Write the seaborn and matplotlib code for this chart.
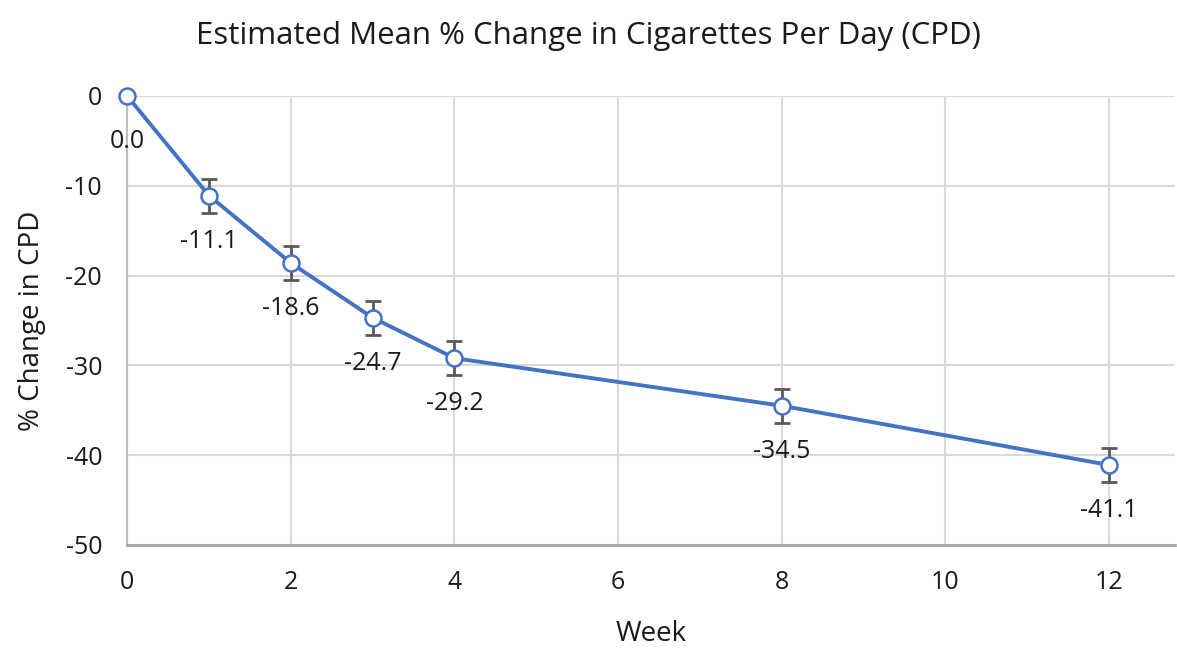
import pandas as pd
import matplotlib
matplotlib.use('Agg')
import matplotlib.pyplot as plt
import seaborn as sns

# дані з графіка
weeks = [0, 1, 2, 3, 4, 8, 12]
pct_change = [0.0, -11.1, -18.6, -24.7, -29.2, -34.5, -41.1]
err = [0.0, 1.9, 1.9, 1.9, 1.9, 1.9, 1.85]

df = pd.DataFrame({'Week': weeks, 'Change': pct_change, 'Err': err})

sns.set_theme(style='white')
plt.rcParams['font.family'] = ['Open Sans', 'DejaVu Sans']
plt.rcParams['axes.unicode_minus'] = False

fig = plt.figure(figsize=(11.77, 6.48), dpi=100)
ax = fig.add_axes([0.108, 0.159, 0.890, 0.693])

blue = '#4472C4'
grey = '#595959'
txt = '#1a1a1a'

# похибки (без нульового тижня)
ax.errorbar(df['Week'][1:], df['Change'][1:], yerr=df['Err'][1:], fmt='none',
            ecolor=grey, elinewidth=2, capsize=6, capthick=2, zorder=2)

sns.lineplot(data=df, x='Week', y='Change', ax=ax, color=blue, linewidth=2.8,
             marker='o', markersize=11.5, markerfacecolor='white',
             markeredgecolor=blue, markeredgewidth=1.8, zorder=3, clip_on=False)

# підписи значень під точками
for w, v in zip(weeks, pct_change):
    ax.annotate(f'{v:.1f}', (w, v), xytext=(0, -33), textcoords='offset points',
                ha='center', va='center', fontsize=18, color=txt)

ax.set_xlim(0, 12.8)
ax.set_ylim(-50, 0)
ax.set_xticks([0, 2, 4, 6, 8, 10, 12])
ax.set_yticks([0, -10, -20, -30, -40, -50])
ax.grid(True, color='#D9D9D9', linewidth=1.5)
ax.set_axisbelow(True)
for s in ['top', 'right']:
    ax.spines[s].set_visible(False)
ax.spines['left'].set_color('#BFBFBF')
ax.spines['left'].set_linewidth(1.5)
ax.spines['bottom'].set_color('#A6A6A6')
ax.spines['bottom'].set_linewidth(2)
ax.tick_params(axis='both', labelsize=18, colors=txt, length=0, pad=18)

ax.set_xlabel('Week', fontsize=20, labelpad=18, color=txt)
ax.set_ylabel('% Change in CPD', fontsize=20, labelpad=14, color=txt)
fig.text(0.5, 0.944, 'Estimated Mean % Change in Cigarettes Per Day (CPD)',
         ha='center', va='center', fontsize=22.5, color=txt)

fig.savefig('out.png', dpi=100)
